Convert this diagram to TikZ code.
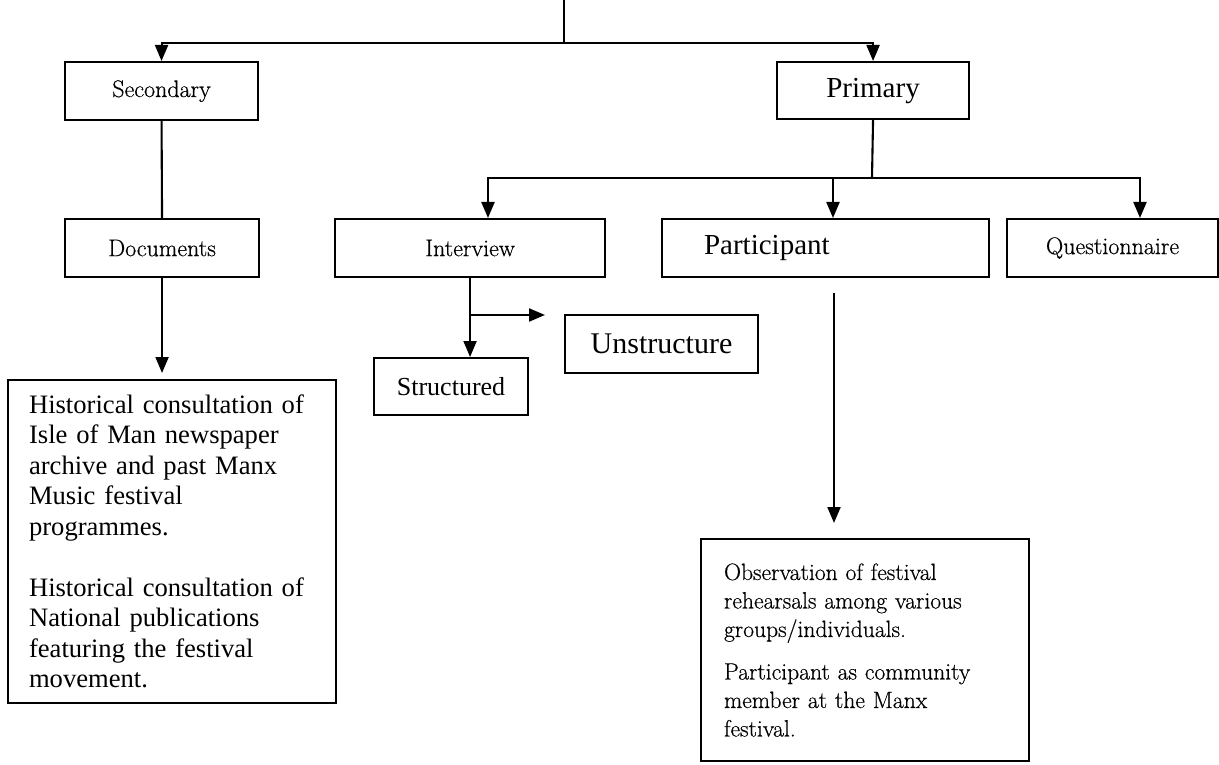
\documentclass[tikz,border=0pt]{standalone}
\usepackage{fontspec}
\newfontfamily\tnr{Liberation Serif}
\newfontfamily\gar[FakeBold=0.5]{Latin Modern Roman}
\usetikzlibrary{arrows.meta}
\begin{document}
\begin{tikzpicture}[x=1pt,y=-1pt,
  box/.style={draw, line width=2.1pt, inner sep=0pt, anchor=north west},
  conn/.style={line width=2.1pt},
  arr/.style={conn, -{Triangle[length=16pt,width=13pt]}},
  gfont/.style={font=\gar\fontsize{24pt}{28pt}\selectfont},
  tfont/.style={font=\tnr\fontsize{29pt}{34pt}\selectfont}]
\useasboundingbox (0,0) rectangle (1219,765);

% boxes
\node[box,gfont,minimum width=193pt,minimum height=58pt] (secondary) at (64,61) {Secondary};
\node[box,tfont,minimum width=192pt,minimum height=57pt] (primary) at (776,61) {Primary};
\node[box,gfont,minimum width=194pt,minimum height=58pt] (documents) at (64,218) {Documents};
\node[box,gfont,minimum width=270pt,minimum height=58pt] (interview) at (334,218) {Interview};
\node[box,tfont,inner xsep=42pt,text width=243pt,align=left,minimum height=58pt] (participant) at (661,218) {Participant};
\node[box,gfont,minimum width=211pt,minimum height=58pt] (questionnaire) at (1006,218) {Questionnaire};
\node[box,font=\tnr\fontsize{30pt}{36pt}\selectfont,minimum width=193pt,minimum height=58pt] (unstruct) at (564,314) {Unstructure};
\node[box,font=\tnr\fontsize{26pt}{31pt}\selectfont,minimum width=154pt,minimum height=57pt] (structured) at (373,357) {Structured};
\node[box,font=\tnr\fontsize{26.6pt}{30.5pt}\selectfont,inner xsep=21pt,text width=286pt,align=left,minimum height=323pt] (hist) at (7,379)
  {Historical consultation of\\ Isle of Man newspaper\\ archive and past Manx\\ Music festival\\ programmes.\\[30.5pt] Historical consultation of\\ National publications\\ featuring the festival\\ movement.};
\node[box,font=\gar\fontsize{23.6pt}{28.5pt}\selectfont,inner xsep=23pt,text width=282pt,align=left,minimum height=222pt] (obs) at (700,538)
  {Observation of festival\\ rehearsals among various\\ groups/individuals.\\[14pt] Participant as community\\ member at the Manx\\ festival.};

% connectors
\coordinate (top) at (564,0);
\coordinate (split) at (564,43);
\draw[conn] (top) -- (split);
\draw[arr] (split) -| (secondary.north);
\draw[arr] (split) -| (primary.north);
\draw[conn] (secondary.south) -- (documents.north);
\draw[arr, shorten >=6pt] (documents.south) -- (documents.south |- hist.north);

\coordinate (psplit) at (872,178);
\coordinate (ia) at (488,178);
\coordinate (pa) at (833,178);
\coordinate (qa) at (1140,178);
\draw[conn] (primary.south) -- (psplit);
\draw[arr] (psplit) -| (ia |- interview.north);
\draw[arr] (psplit) -| (qa |- questionnaire.north);
\draw[arr] (pa) -- (pa |- participant.north);

\coordinate (jn) at (469,315);
\draw[arr] (interview.south) -- (interview.south |- structured.north);
\draw[arr, shorten >=19pt] (jn) -- (jn -| unstruct.west);

\coordinate (px) at (834,293);
\draw[arr, shorten >=15pt] (px) -- (px |- obs.north);
\end{tikzpicture}
\end{document}
